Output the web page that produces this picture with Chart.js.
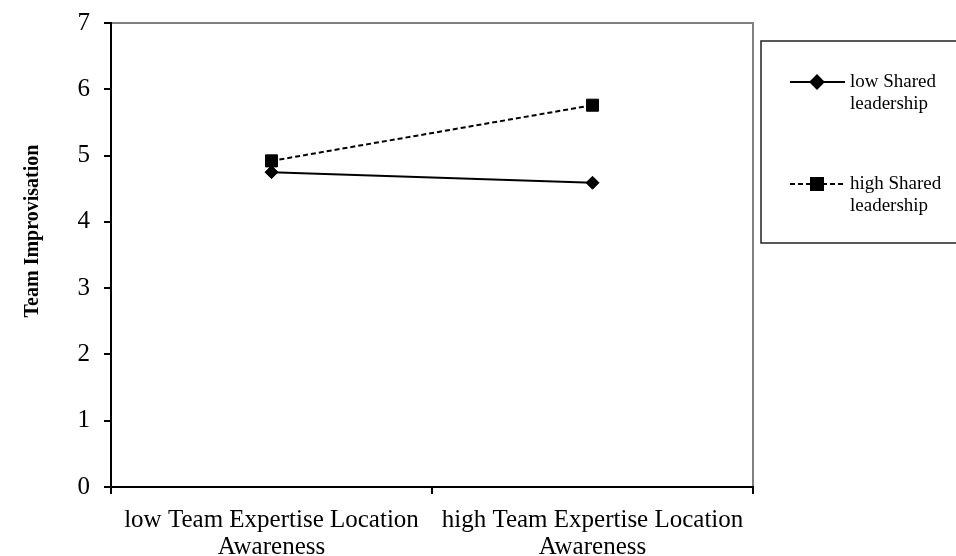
<!DOCTYPE html>
<html>
<head>
<meta charset="utf-8">
<script src="https://cdn.jsdelivr.net/npm/chart.js@4"></script>
<style>
  html, body { margin: 0; padding: 0; background: #fff; }
  #wrap { width: 956px; height: 556px; }
</style>
</head>
<body>
<div id="wrap"><canvas id="interactionChart"></canvas></div>
<script>
// Chart data
const categories = [
    ["low Team Expertise Location", "Awareness"],
    ["high Team Expertise Location", "Awareness"]
];
const lowShared = [4.75, 4.59];
const highShared = [4.92, 5.76];
const seriesNames = [["low Shared", "leadership"], ["high Shared", "leadership"]];
const yTicks = [0, 1, 2, 3, 4, 5, 6, 7];
const yTitle = "Team Improvisation";

const serif = "'Liberation Serif', 'Times New Roman', serif";

// gray frame on top/right of plot area + rotated y title
const frame = {
    id: 'frame',
    beforeDraw(chart) {
        const { ctx, chartArea: a } = chart;
        ctx.save();
        ctx.strokeStyle = '#808080';
        ctx.lineWidth = 2;
        ctx.beginPath();
        ctx.moveTo(a.left, a.top);
        ctx.lineTo(a.right, a.top);
        ctx.lineTo(a.right, a.bottom);
        ctx.stroke();

        ctx.translate(33, 231);
        ctx.rotate(-Math.PI / 2);
        ctx.fillStyle = '#000';
        ctx.font = 'bold 20px ' + serif;
        ctx.textAlign = 'center';
        ctx.textBaseline = 'middle';
        ctx.fillText(yTitle, 0, 0);
        ctx.restore();
    }
};

// legend box like the spreadsheet one
const boxLegend = {
    id: 'boxLegend',
    afterDraw(chart) {
        const ctx = chart.ctx;
        const bx = 761, by = 41, bw = 200, bh = 202;
        ctx.save();
        ctx.strokeStyle = '#222';
        ctx.lineWidth = 1.5;
        ctx.strokeRect(bx, by, bw, bh);
        const rows = [82, 184];
        chart.data.datasets.forEach((ds, i) => {
            const y = rows[i];
            ctx.strokeStyle = ds.borderColor;
            ctx.lineWidth = ds.borderWidth;
            ctx.setLineDash(ds.borderDash || []);
            ctx.beginPath();
            ctx.moveTo(790, y);
            ctx.lineTo(845, y);
            ctx.stroke();
            ctx.setLineDash([]);
            ctx.fillStyle = '#000';
            Chart.helpers.drawPoint(ctx, {
                pointStyle: ds.pointStyle,
                radius: ds.pointRadius,
                borderWidth: 1
            }, 817, y);
            ctx.font = '19px ' + serif;
            ctx.textBaseline = 'middle';
            ctx.textAlign = 'left';
            seriesNames[i].forEach((t, k) => ctx.fillText(t, 850, y + k * 22));
        });
        ctx.restore();
    }
};

const ctx = document.getElementById('interactionChart').getContext('2d');

const interactionChart = new Chart(ctx, {
    type: 'line',
    data: {
        labels: categories,
        datasets: [
            {
                label: seriesNames[0].join(' '),
                data: lowShared,
                borderColor: '#000',
                backgroundColor: '#000',
                borderWidth: 2,
                pointStyle: 'rectRot',
                pointRadius: 6.5,
                pointBorderWidth: 1,
                fill: false
            },
            {
                label: seriesNames[1].join(' '),
                data: highShared,
                borderColor: '#000',
                backgroundColor: '#000',
                borderWidth: 2,
                borderDash: [5, 3],
                pointStyle: 'rect',
                pointRadius: 8.5,
                pointBorderWidth: 1,
                fill: false
            }
        ]
    },
    options: {
        responsive: true,
        maintainAspectRatio: false,
        animation: false,
        devicePixelRatio: 1,
        layout: { padding: { top: 23, right: 203, left: 0, bottom: 0 } },
        plugins: {
            legend: { display: false },
            tooltip: { enabled: false }
        },
        scales: {
            x: {
                offset: true,
                grid: { offset: true, drawOnChartArea: false, drawTicks: true, tickLength: 7, color: '#000', lineWidth: 2 },
                border: { color: '#000', width: 2 },
                ticks: { color: '#000', padding: 13, maxRotation: 0, autoSkip: false,
                         font: { family: serif, size: 25, lineHeight: 1.08 } },
                afterFit(scale) { scale.height = 69; }
            },
            y: {
                min: 0,
                max: 7,
                afterBuildTicks(scale) { scale.ticks = yTicks.map(v => ({ value: v })); },
                grid: { drawOnChartArea: false, drawTicks: true, tickLength: 7, color: '#000', lineWidth: 2 },
                border: { color: '#000', width: 2 },
                ticks: { color: '#000', padding: 14, font: { family: serif, size: 25, lineHeight: 1 } },
                afterFit(scale) {
                    scale.width = 111;
                    scale.paddingTop = 0;
                    scale.paddingBottom = 0;
                }
            }
        }
    },
    plugins: [frame, boxLegend]
});
</script>
</body>
</html>
